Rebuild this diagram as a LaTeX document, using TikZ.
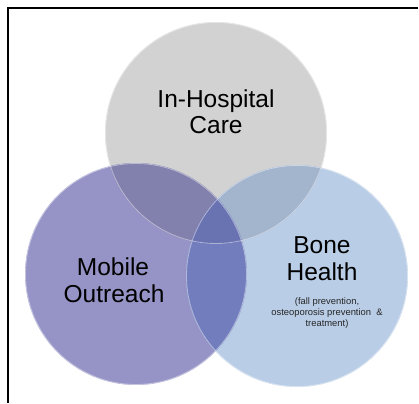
\documentclass[tikz,border=0pt]{standalone}
\usepackage{fontspec}
\setmainfont{Liberation Sans}
\begin{document}
\begin{tikzpicture}[x=1pt,y=-1pt,
  frame/.style={line width=2pt,black},
  bigtext/.style={font=\fontsize{24.5}{26}\selectfont,anchor=base,inner sep=0pt},
  smalltext/.style={font=\fontsize{9.4}{11}\selectfont,anchor=base,inner sep=0pt,text=black!85}]
\definecolor{careGray}{HTML}{D2D2D2}
\definecolor{mobilePurple}{HTML}{9694C6}
\definecolor{boneBlue}{HTML}{B9CDE6}
\definecolor{carePurple}{HTML}{8280AC}
\definecolor{careBlue}{HTML}{A3B4CD}
\definecolor{purpleBlue}{HTML}{717DBC}
\definecolor{allThree}{HTML}{6A73B2}
\useasboundingbox (0,0) rectangle (419,403);
\fill[white] (0,0) rectangle (419,403);

% circle centres and radius
\coordinate (cc) at (216,133);
\coordinate (mc) at (136,274);
\coordinate (bc) at (297,276);
\def\rad{111}

% base discs
\fill[careGray] (cc) circle (\rad);
\fill[mobilePurple] (mc) circle (\rad);
\fill[boneBlue] (bc) circle (\rad);

% pairwise overlaps
\begin{scope}
  \clip (cc) circle (\rad);
  \fill[carePurple] (mc) circle (\rad);
  \fill[careBlue] (bc) circle (\rad);
\end{scope}
\begin{scope}
  \clip (mc) circle (\rad);
  \fill[purpleBlue] (bc) circle (\rad);
\end{scope}
% triple overlap
\begin{scope}
  \clip (cc) circle (\rad);
  \clip (mc) circle (\rad);
  \fill[allThree] (bc) circle (\rad);
\end{scope}

% soft rims
\draw[white,opacity=0.45,line width=0.8pt] (cc) circle (\rad-0.5);
\draw[white,opacity=0.45,line width=0.8pt] (mc) circle (\rad-0.5);
\draw[white,opacity=0.45,line width=0.8pt] (bc) circle (\rad-0.5);

% labels
\node[bigtext] (care1) at (216,108) {In-Hospital};
\node[bigtext] (care2) at (216,134) {Care};
\node[bigtext] (mob1) at (113,275) {Mobile};
\node[bigtext] (mob2) at (114,302) {Outreach};
\node[bigtext] (bone1) at (322,253) {Bone};
\node[bigtext] (bone2) at (322,280) {Health};
\node[smalltext] (bs1) at (327,304) {(fall prevention,};
\node[smalltext] (bs2) at (327,315) {osteoporosis prevention \ \&};
\node[smalltext] (bs3) at (327,326) {treatment)};

% frame along the top and left
\coordinate (ftr) at (418,7.7);
\coordinate (ftl) at (8,7.7);
\coordinate (fbl) at (8,403);
\draw[frame] (ftr) -- (ftl) -- (fbl);
\end{tikzpicture}
\end{document}
